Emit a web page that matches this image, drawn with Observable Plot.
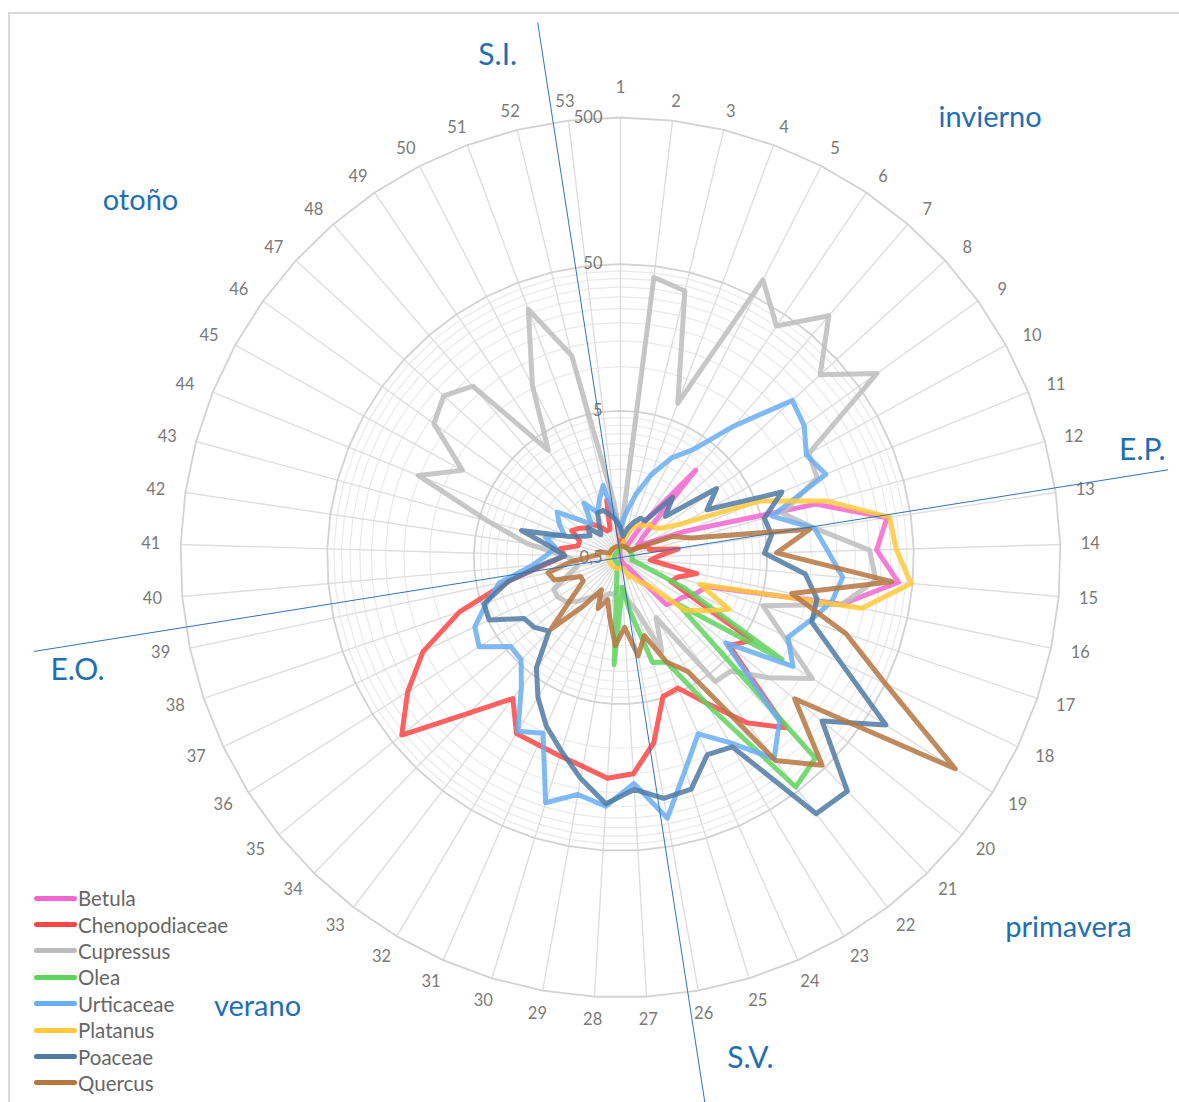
<!DOCTYPE html>
<html><head><meta charset="utf-8">
<script src="https://cdn.jsdelivr.net/npm/d3@7"></script>
<script src="https://cdn.jsdelivr.net/npm/@observablehq/plot@0.6"></script>
<style>
body{margin:0;background:#fff;overflow:hidden;font-family:Lato,"Open Sans",sans-serif}
#wrap{position:relative;width:1179px;height:1102px;overflow:hidden;background:#fff}
#chart{position:absolute;left:0;top:0}
#frame{position:absolute;left:8px;top:12px;width:1300px;height:1300px;border:2px solid #d9d9d9;pointer-events:none}
#legend{position:absolute;left:34px;top:885px}
.row{display:flex;align-items:center;height:26.4px}
.sw{width:43px;height:5px;border-radius:3px;margin-right:1px}
.lab{font-size:20.5px;color:#666;font-family:Lato,"Open Sans",sans-serif}
</style></head><body>
<div id="wrap"><div id="chart"></div><div id="legend"></div><div id="frame"></div></div>
<script>
const weeks = d3.range(1, 54).map(String);
const series = ["Betula","Chenopodiaceae","Cupressus","Olea","Urticaceae","Platanus","Poaceae","Quercus"];
const colors = ["#f566cf","#ff4545","#bdbdbd","#5fd35f","#68aef2","#ffc93a","#4f7aa3","#b5763f"];

const betula = [0.6,0.6,0.6,0.6,0.6,1.0,3.05,0.8,0.7,0.8,1.5,12,34.4,27.9,40,17.5,2.1,1.85,1.6,1.5,1.4,0.6,0.6,0.55,0.55,0.5,0.5,0.5,0.5,0.5,0.5,0.5,0.5,0.5,0.5,0.5,0.5,0.5,0.5,0.5,0.5,0.5,0.5,0.5,0.5,0.5,0.5,0.5,0.5,0.5,0.5,0.5,0.55];
const chenopodiaceae = [0.6,0.7,0.6,0.6,0.6,0.6,0.6,0.6,0.6,0.7,0.8,0.8,1.25,0.9,0.8,1.7,1.3,1.2,5.7,4.5,20.7,13.1,7.1,4.7,4.9,9.6,15,16.1,14,13,12.4,12.4,8.1,15,41.7,26,15.5,7.2,3,1.6,1.2,1.3,1.0,1.0,1.2,1.1,1.0,1.0,0.9,0.8,0.8,1.26,1.0];
const cupressus = [0.7,42,37,6.6,67,40,75,35,71,14.6,14,7,11,25,28,17.5,5.3,8.4,17.6,10,6,5.8,1.5,2.5,1.2,1,0.8,0.8,0.9,0.9,1,1,1.1,1.3,1.5,1.6,1.6,1.2,1,1,1.2,2.2,4.3,15.4,8.5,18.4,21.5,17.4,3.8,10.3,32,13,1.2];
const olea = [0.6,0.6,0.6,0.6,0.6,0.6,0.6,0.6,0.6,0.6,0.6,0.6,0.6,0.6,0.6,0.6,0.7,1.5,10,1.6,40.3,46.5,7.3,3.0,2.8,1.2,0.8,2.7,0.7,0.6,0.55,0.55,0.55,0.55,0.55,0.55,0.55,0.55,0.55,0.55,0.55,0.55,0.55,0.55,0.55,0.55,0.55,0.55,0.55,0.55,0.55,0.55,0.6];
const urticaceae = [0.8,1.0,1.38,2.0,2.9,3.85,7.6,19.3,17.4,14,16.2,5.9,10.9,13,16.6,14.8,11.4,9.2,12.3,4.2,18,26.6,14.6,10.3,16.3,32,17.5,25,21.9,28,10.2,11.9,6.5,4.7,4.6,6.9,6.3,4.6,3.5,2.0,1.6,1.4,1.7,1.3,1.5,1.7,1.2,1.0,1.4,1.1,1.3,1.6,0.9];
const platanus = [0.6,0.6,0.7,0.8,0.9,0.9,1.0,1.0,1.1,1.5,5.3,14.4,35.8,38,48.7,24,1.85,3.3,2.4,1.86,0.9,0.8,0.7,0.7,0.6,0.6,0.6,0.6,0.6,0.6,0.6,0.6,0.6,0.6,0.6,0.6,0.6,0.6,0.6,0.6,0.6,0.6,0.6,0.6,0.6,0.6,0.6,0.6,0.6,0.6,0.6,0.6,0.6];
const poaceae = [0.8,0.7,0.8,0.9,1.0,1.0,1.75,1.3,3.2,2.36,7.7,5.2,5.5,4.8,9.2,11.7,11.9,23,69,29.4,83,79,15.8,14.7,22.4,23.3,19.2,24,17,12,9,6.4,4.4,2.5,2.85,3.0,4.9,4.8,3.0,1.7,1.2,1.5,2.5,1.2,1.0,0.9,1.0,0.8,0.9,1.1,1.1,1.0,0.9];
const quercus = [0.6,0.6,0.6,0.6,0.6,0.6,0.6,0.6,0.6,0.7,1.2,1.6,10.1,5.8,36,7.8,21,50,250,16.9,47,27.6,4,3,1.8,2.4,1.5,2.0,1.3,1.0,1.2,0.9,1.3,2.4,1.3,1.0,1.0,1.5,1.6,1.1,0.8,0.7,0.7,0.6,0.6,0.6,0.6,0.6,0.6,0.6,0.6,0.6,0.6];
const values = [betula, chenopodiaceae, cupressus, olea, urticaceae, platanus, poaceae, quercus];

const tickValues = [0.5, 5, 50, 500];
const tickLabels = ["0,5", "5", "50", "500"];
const seasonLabels = ["invierno", "primavera", "verano", "otoño"];
const markerLabels = ["S.I.", "E.P.", "S.V.", "E.O."];
const markerAngles = [351.2, 80.9, 171.2, 260.9];

// layout (chart units, radius 1 = outer ring)
const markerLength = [1.23, 1.26, 1.3, 1.35];
const seasonPos = [[0.84, 1.0], [1.018, -0.841], [-0.825, -1.02], [-1.091, 0.811]];
const markerPos = [[-0.279, 1.141], [1.186, 0.243], [0.295, -1.139], [-1.234, -0.257]];
const labelRadius = {x: 1.068, top: 1.043, bottom: 1.053, first: 1.068};

const rScale = d3.scaleLog().domain([0.5, 500]).range([0, 1]).clamp(true);
const ang = k => (k * 360 / 53) * Math.PI / 180;
const px = (r, a) => r * Math.sin(a);
const py = (r, a) => r * Math.cos(a);

const rows = series.flatMap((s, i) => values[i].map((v, k) => ({series: s, week: k + 1, x: px(rScale(v), ang(k)), y: py(rScale(v), ang(k))})));

const minor = [];
for (let e = -1; e <= 1; e++) for (let m = 2; m <= 9; m++) minor.push(0.5 * m * Math.pow(10, e));
const gridRows = (vals) => vals.flatMap(v => weeks.map((w, k) => ({v, x: px(rScale(v), ang(k)), y: py(rScale(v), ang(k))})));

const rad = d => d * Math.PI / 180;
const labY = k => { const c = Math.cos(ang(k)); return c * (k === 0 ? labelRadius.first : c >= 0 ? labelRadius.top : labelRadius.bottom); };

const chart = Plot.plot({
  width: 1179, height: 1102, margin: 0,
  style: {background: "transparent", fontFamily: "Lato, 'Open Sans', sans-serif"},
  x: {domain: [-1, 1], range: [180, 1060], axis: null},
  y: {domain: [-1, 1], range: [997, 117], axis: null},
  color: {domain: series, range: colors},
  marks: [
    Plot.line(gridRows(minor), {x: "x", y: "y", z: "v", curve: "linear-closed", stroke: "#e9e9e9", strokeWidth: 1.2}),
    Plot.link(weeks, {x1: 0, y1: 0, x2: (d, k) => px(1, ang(k)), y2: (d, k) => py(1, ang(k)), stroke: "#dedede", strokeWidth: 1.4}),
    Plot.line(gridRows([5, 50, 500]), {x: "x", y: "y", z: "v", curve: "linear-closed", stroke: "#d2d2d2", strokeWidth: 1.8}),
    Plot.text(weeks, {x: (d, k) => px(labelRadius.x, ang(k)), y: (d, k) => labY(k), text: d => d, fontSize: 16.5, fill: "#7a7a7a"}),
    Plot.text(tickValues, {x: 0, y: d => rScale(d), text: (d, i) => tickLabels[i], textAnchor: "end", dx: -18, fontSize: 16.5, fill: "#7a7a7a"}),
    Plot.line(rows, {x: "x", y: "y", z: "series", stroke: "series", curve: "linear-closed", strokeWidth: 5, strokeOpacity: 0.85, strokeLinejoin: "round", strokeLinecap: "round"}),
    Plot.link(markerAngles, {x1: 0, y1: 0, x2: (d, i) => px(markerLength[i], rad(d)), y2: (d, i) => py(markerLength[i], rad(d)), stroke: "#2e75b6", strokeWidth: 1}),
    Plot.text(seasonLabels, {x: (d, i) => seasonPos[i][0], y: (d, i) => seasonPos[i][1], text: d => d, fontSize: 29, fill: "#1f6fb4"}),
    Plot.text(markerLabels, {x: (d, i) => markerPos[i][0], y: (d, i) => markerPos[i][1], text: d => d, fontSize: 30, fill: "#1f6fb4"})
  ]
});
document.getElementById("chart").appendChild(chart);

const legend = document.getElementById("legend");
series.forEach((s, i) => {
  const row = document.createElement("div"); row.className = "row";
  const sw = document.createElement("span"); sw.className = "sw"; sw.style.background = colors[i];
  const lab = document.createElement("span"); lab.className = "lab"; lab.textContent = s;
  row.appendChild(sw); row.appendChild(lab); legend.appendChild(row);
});
</script>
</body></html>
